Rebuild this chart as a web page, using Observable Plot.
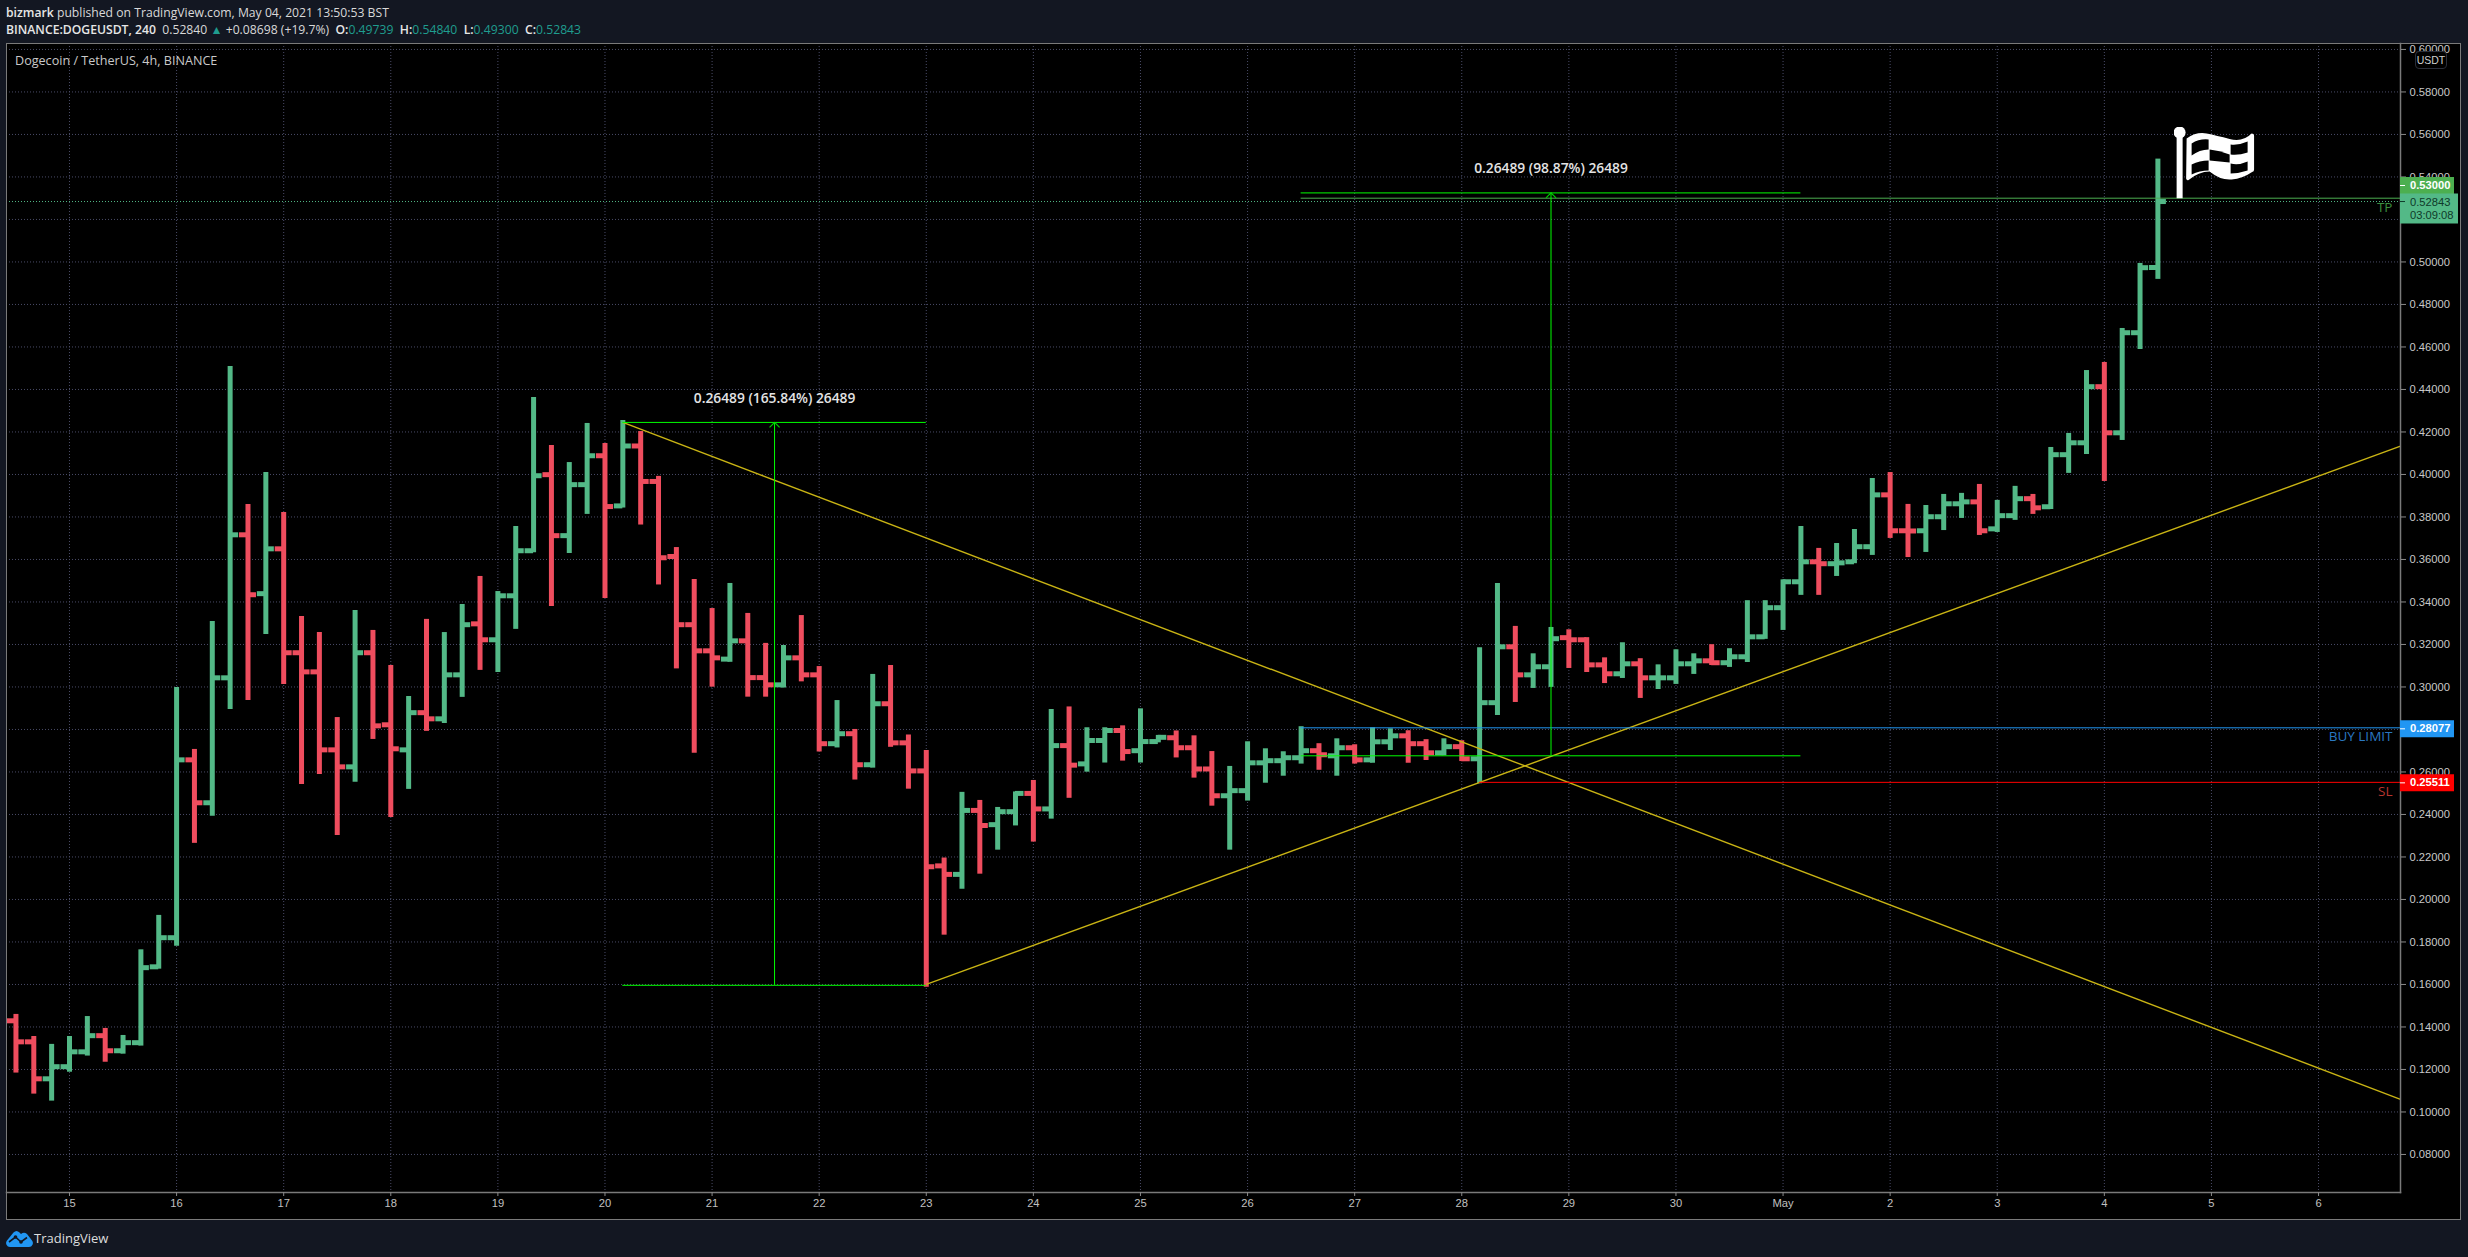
<!DOCTYPE html>
<html><head><meta charset="utf-8">
<script src="https://cdn.jsdelivr.net/npm/d3@7"></script>
<script src="https://cdn.jsdelivr.net/npm/@observablehq/plot@0.6"></script>
<style>
html,body{margin:0;padding:0;background:#131722;width:2468px;height:1257px;overflow:hidden;}
body{position:relative;font-family:"Open Sans",sans-serif;color:#d9d9d9;}
.hd{position:absolute;left:6px;white-space:nowrap;font-size:12.2px;line-height:16px;}
.hd b{font-weight:600;color:#e6e6e6}
.t{color:#1f9d8f}
#pane{position:absolute;left:6px;top:43px;}
#pane svg{display:block;outline:1.5px solid #7a7a7a;outline-offset:-1px;}
#title{position:absolute;left:15px;top:53px;font-size:12.6px;line-height:16px;color:#c9c9c9;white-space:nowrap;}
#usdt{position:absolute;left:2415px;top:51px;width:30px;height:16px;background:#000;border:1px solid #2a2e39;border-radius:4px;font:10.5px/16px "Liberation Sans",sans-serif;color:#cfcfcf;text-align:center;}
#brand{position:absolute;left:34px;top:1230px;font-size:13px;line-height:16px;color:#dedede;}
#logo{position:absolute;left:6px;top:1230px;}
</style></head><body>
<div class="hd" style="top:5px"><b>bizmark</b> published on TradingView.com, May 04, 2021 13:50:53 BST</div>
<div class="hd" style="top:22px"><b>BINANCE:DOGEUSDT, 240</b>&nbsp; 0.52840 <span class="t">▲</span> +0.08698 (+19.7%) &nbsp;<b>O:</b><span class="t">0.49739</span> &nbsp;<b>H:</b><span class="t">0.54840</span> &nbsp;<b>L:</b><span class="t">0.49300</span> &nbsp;<b>C:</b><span class="t">0.52843</span></div>
<div id="pane"></div>
<div id="title">Dogecoin / TetherUS, 4h, BINANCE</div>
<div id="usdt">USDT</div>
<svg id="logo" width="27" height="17" viewBox="0 0 27 17"><path fill="#2196f3" d="M4 17A4 4 0 0 1 1 10.5L7.5 2.5Q10.5 -.5 13.500 2.500L15 4Q18 1.500 21 4L26 10.500A4 4 0 0 1 23 17Z"/><path fill="none" stroke="#131722" stroke-width="1.6" d="M3 12L9.500 7L15 12L21 7.500"/><circle cx="9.500" cy="7" r="1.800" fill="#131722"/><circle cx="15" cy="12" r="1.800" fill="#131722"/></svg>
<div id="brand">TradingView</div>
<script>
// OHLC of 4h bars, first bar 2021-04-14 12:00 UTC
const firstBar = Date.UTC(2021, 3, 14, 12);
const opens = [
.1429,.1330,.1156,.1213,.1283,.1359,.1288,.1326,.1683,.1820,
.2657,.2455,.3043,.3716,.3439,.3650,.3161,.3071,.2704,.2624,
.3161,.2822,.2704,.2879,.2850,.3057,.3297,.3222,.3429,.3641,
.3999,.3712,.3952,.4088,.3852,.4134,.3967,.3614,.3293,.3170,
.3131,.3217,.3044,.3010,.3137,.3057,.2733,.2780,.2634,.2921,
.2737,.2605,.2158,.2118,.2419,.2352,.2413,.2499,.2426,.2724,
.2638,.2748,.2795,.2700,.2743,.2761,.2714,.2614,.2488,.2512,
.2643,.2653,.2667,.2700,.2676,.2714,.2657,.2742,.2770,.2733,
.2690,.2719,.2662,.2926,.3189,.3057,.3095,.3232,.3222,.3104,
.3062,.3109,.3043,.3043,.3109,.3123,.3114,.3142,.3236,.3373,
.3495,.3589,.3580,.3589,.3660,.3904,.3735,.3735,.3801,.3862,
.3871,.3744,.3806,.3886,.3848,.4093,.4149,.4413,.4196,.4667,
.49739];
const highs = [
.1459,.1355,.1318,.1355,.1449,.1393,.1360,.1763,.1925,.2998,
.2706,.3308,.4508,.3859,.4009,.3821,.3332,.3256,.2856,.3360,
.3266,.3101,.2955,.3318,.3256,.3388,.3520,.3449,.3755,.4362,
.4136,.4056,.4240,.4146,.4254,.4202,.3991,.3656,.3506,.3369,
.3487,.3346,.3205,.3195,.3336,.3096,.2936,.2800,.3059,.3101,
.2774,.2701,.2195,.2504,.2466,.2433,.2506,.2560,.2894,.2906,
.2808,.2808,.2817,.2897,.2772,.2793,.2770,.2696,.2626,.2742,
.2709,.2695,.2813,.2733,.2756,.2728,.2808,.2803,.2794,.2752,
.2756,.2747,.3184,.3487,.3285,.3156,.3280,.3269,.3232,.3137,
.3208,.3133,.3104,.3175,.3156,.3199,.3180,.3406,.3406,.3504,
.3755,.3652,.3675,.3741,.3981,.4009,.3859,.3854,.3906,.3911,
.3953,.3878,.3944,.3906,.4127,.4193,.4489,.4527,.4687,.4993,
.54840];
const lows = [
.1183,.1084,.1051,.1187,.1263,.1234,.1272,.1310,.1672,.1780,
.2264,.2392,.2894,.2936,.3247,.3012,.2541,.2588,.2301,.2551,
.2753,.2386,.2518,.2791,.2828,.2951,.3078,.3068,.3271,.3632,
.3379,.3628,.3812,.3416,.3842,.3762,.3480,.3085,.2688,.2999,
.3116,.2952,.2952,.2995,.3024,.2694,.2713,.2562,.2618,.2716,
.2519,.1587,.1832,.2048,.2119,.2232,.2346,.2270,.2378,.2476,
.2599,.2642,.2651,.2642,.2737,.2666,.2571,.2439,.2232,.2463,
.2547,.2580,.2637,.2608,.2580,.2637,.2641,.2701,.2641,.2654,
.2676,.2649,.2544,.2866,.2927,.2993,.2998,.3087,.3068,.3016,
.3040,.2946,.2988,.3012,.3059,.3101,.3092,.3115,.3224,.3266,
.3431,.3431,.3520,.3580,.3619,.3699,.3609,.3633,.3736,.3793,
.3713,.3727,.3784,.3812,.3835,.4005,.4094,.3967,.4160,.4588,
.4918];
const closes = [
.1330,.1156,.1213,.1283,.1359,.1288,.1326,.1679,.1820,.2657,
.2455,.3043,.3716,.3434,.3650,.3161,.3071,.2704,.2624,.3161,
.2817,.2709,.2879,.2850,.3057,.3293,.3222,.3429,.3641,.3994,
.3712,.3952,.4088,.3849,.4134,.3967,.3608,.3293,.3170,.3137,
.3217,.3044,.3010,.3137,.3057,.2733,.2780,.2634,.2921,.2737,
.2605,.2154,.2118,.2419,.2348,.2413,.2499,.2426,.2724,.2632,
.2748,.2795,.2696,.2743,.2763,.2714,.2614,.2488,.2512,.2643,
.2653,.2667,.2700,.2681,.2714,.2657,.2742,.2770,.2733,.2690,
.2719,.2662,.2926,.3189,.3057,.3095,.3227,.3222,.3104,.3062,
.3109,.3043,.3043,.3109,.3123,.3114,.3142,.3236,.3373,.3495,
.3589,.3580,.3584,.3660,.3904,.3735,.3734,.3801,.3862,.3871,
.3735,.3806,.3886,.3843,.4093,.4149,.4413,.4196,.4667,.4973,
.52843];

// axes
const dayTicks = [
"2021-04-15","2021-04-16","2021-04-17","2021-04-18","2021-04-19","2021-04-20","2021-04-21","2021-04-22",
"2021-04-23","2021-04-24","2021-04-25","2021-04-26","2021-04-27","2021-04-28","2021-04-29","2021-04-30",
"2021-05-01","2021-05-02","2021-05-03","2021-05-04","2021-05-05","2021-05-06"].map(d => new Date(d + "T00:00Z"));
const dayLabels = ["15","16","17","18","19","20","21","22","23","24","25","26","27","28","29","30","May","2","3","4","5","6"];
const priceTicks = [.08,.10,.12,.14,.16,.18,.20,.22,.24,.26,.28,.30,.32,.34,.36,.38,.40,.42,.44,.46,.48,.50,.52,.54,.56,.58,.60];

// drawings
const T = s => new Date(s + "Z");
const yellowLines = [
  {x1: T("2021-04-20T04:00"), y1: .4245, x2: T("2021-05-06T18:22"), y2: .1059},
  {x1: T("2021-04-23T00:00"), y1: .1600, x2: T("2021-05-06T18:22"), y2: .4133}
];
const measures = [
  {from: T("2021-04-20T04:00"), mid: T("2021-04-21T14:00"), to: T("2021-04-23T00:00"), low: .15960, high: .42449, label: "0.26489 (165.84%) 26489"},
  {from: T("2021-04-26T12:00"), mid: T("2021-04-28T20:00"), to: T("2021-05-01T04:00"), low: .26760, high: .53249, label: "0.26489 (98.87%) 26489"}
];
const orderLines = [
  {price: .53000, from: T("2021-04-26T12:00"), stroke: "#4caf50", label: "TP", text: "#3a8f3e"},
  {price: .28077, from: T("2021-04-26T12:00"), stroke: "#2196f3", label: "BUY LIMIT", text: "#2a78c2"},
  {price: .25511, from: T("2021-04-28T04:00"), stroke: "#ff0000", label: "SL", text: "#b8352f"}
];
const lastPrice = .52843, countdown = "03:09:08";
const priceTags = [
  {price: .53000, label: "0.53000", fill: "#4caf50", ink: "#fff", shift: -12.7, span: 54, thick: 17, weight: 700},
  {price: .28077, label: "0.28077", fill: "#2196f3", ink: "#fff", shift: 1, span: 54, thick: 17, weight: 700},
  {price: .25511, label: "0.25511", fill: "#ff0000", ink: "#fff", shift: .5, span: 54, thick: 17, weight: 700},
  {price: lastPrice, label: "0.52843", fill: "#53b987", ink: "#0f3a2a", shift: 7, span: 58, thick: 30, weight: 400, textShift: 1}
];

const H4 = 4 * 3600e3;
const bars = opens.map((o, i) => ({date: new Date(firstBar + i * H4), open: o, high: highs[i], low: lows[i], close: closes[i]}));
const xStart = T("2021-04-14T09:53"), xEnd = T("2021-05-06T18:22");
const pxMs = 24 * 3600e3 / 107.1;
const pxPrice = 1 / 2125;
const tickMs = 8.5 * pxMs;
const up = "#53b987", down = "#ef4d5e";
const barColor = d => d.close >= d.open ? up : down;
const shiftX = (px) => new Date(+xEnd + px * pxMs);
const chevrons = measures.flatMap(m => [-1, 1].map(s => ({x1: m.mid, y1: m.high, x2: new Date(+m.mid + s * 5 * pxMs), y2: m.high - 5 * pxPrice})));

const grid = {stroke: "#4a4c68", strokeWidth: 1, strokeDasharray: "1,2"};
const axisFont = '"Liberation Sans",sans-serif';
const limeGreen = "#00ff00";

const flagSvg = `<svg xmlns="http://www.w3.org/2000/svg" viewBox="-3 0 81 72" width="81" height="72"><circle cx="3" cy="6" r="6" fill="#fff"/><rect x="0" y="6" width="6" height="66" fill="#fff"/><path fill="#fff" d="M10 12Q20 5 30 7T53 12.500T75 7Q77.500 7 77.500 9.500L77.500 43Q77.500 45 75.500 45.500Q66 52 55 53T33 45Q22 45 12 53.500Q10 54.500 9.500 52Z"/><g fill="#000"><path d="M15 17Q23 12 32 13L32 23Q23 23 15 29Z"/><path d="M33 23Q43 24 53 28L53 36Q43 35 33 34Z"/><path d="M54 18Q62 19 71 15L71 26Q62 29 54 28Z"/><path d="M15 38Q23 34 32 34L32 44Q23 44 15 48Z"/><path d="M54 37Q62 39 71 35L71 44Q62 47 54 47Z"/></g></svg>`;
const flag = [{date: T("2021-05-05T00:36"), price: .5468, src: "data:image/svg+xml;utf8," + encodeURIComponent(flagSvg)}];

const tagMarks = priceTags.flatMap(t => [
  Plot.ruleY([t], {y: "price", x1: () => xEnd, x2: () => shiftX(t.span), stroke: "fill", strokeWidth: t.thick, dy: t.shift}),
  Plot.ruleY([t], {y: "price", x1: () => xEnd, x2: () => shiftX(5), stroke: "ink", strokeWidth: 1, dy: t.thick > 20 ? 0 : t.shift}),
  Plot.text([t], {x: () => xEnd, y: "price", text: "label", dx: 9.5, dy: t.textShift ?? t.shift, textAnchor: "start", fill: "ink", fontWeight: t.weight, fontFamily: axisFont, fontSize: 11.2})
]);

const chart = Plot.plot({
  width: 2455, height: 1177,
  marginTop: 0, marginLeft: 0, marginRight: 61, marginBottom: 28,
  x: {type: "utc", domain: [xStart, xEnd], axis: null},
  y: {domain: [.0621, .6028], axis: null},
  color: {type: "identity"},
  style: {background: "#000", overflow: "visible", fontFamily: '"Open Sans",sans-serif'},
  marks: [
    Plot.ruleY(priceTicks, grid),
    Plot.ruleX(dayTicks, grid),
    Plot.ruleY([lastPrice], {stroke: up, strokeWidth: 1, strokeDasharray: "1,2"}),

    Plot.ruleX(bars, {x: "date", y1: "low", y2: "high", stroke: barColor, strokeWidth: 5}),
    Plot.ruleY(bars, {y: "open", x1: d => new Date(+d.date - tickMs), x2: "date", stroke: barColor, strokeWidth: 5}),
    Plot.ruleY(bars, {y: "close", x1: "date", x2: d => new Date(+d.date + tickMs), stroke: barColor, strokeWidth: 5}),

    Plot.link(yellowLines, {x1: "x1", y1: "y1", x2: "x2", y2: "y2", stroke: "#c9b414", strokeWidth: 1.4}),
    Plot.ruleY(orderLines, {y: "price", x1: "from", x2: () => xEnd, stroke: "stroke", strokeWidth: 1}),
    Plot.ruleY(measures, {y: "high", x1: "from", x2: "to", stroke: limeGreen, strokeWidth: 1}),
    Plot.ruleY(measures, {y: "low", x1: "from", x2: "to", stroke: limeGreen, strokeWidth: 1}),
    Plot.ruleX(measures, {x: "mid", y1: "low", y2: "high", stroke: limeGreen, strokeWidth: 1}),
    Plot.link(chevrons, {x1: "x1", y1: "y1", x2: "x2", y2: "y2", stroke: "#00d000", strokeWidth: 1.2}),
    Plot.text(measures, {x: "mid", y: "high", text: "label", dy: -24, fill: "#e4e4e4", fontSize: 13.8, fontWeight: 600}),
    Plot.text(orderLines, {x: () => xEnd, y: "price", text: "label", fill: "text", dx: -8, dy: 9, textAnchor: "end", fontSize: 13.5}),

    Plot.image(flag, {x: "date", y: "price", src: "src", width: 81, height: 72}),

    Plot.frame({anchor: "right", stroke: "#7a7a7a", strokeWidth: 1.5}),
    Plot.frame({anchor: "bottom", stroke: "#7a7a7a", strokeWidth: 1.5}),
    Plot.axisY(priceTicks, {anchor: "right", tickFormat: d3.format(".5f"), tickSize: 5, tickPadding: 4, stroke: "#8a8a8a", fill: "#c8c8c8", fontFamily: axisFont, fontSize: 11.2, label: null}),
    Plot.axisX(dayTicks, {anchor: "bottom", tickFormat: d => dayLabels[dayTicks.findIndex(t => +t === +d)], tickSize: 4, tickPadding: 3, stroke: "#8a8a8a", fill: "#c0c0c0", fontFamily: axisFont, fontSize: 11.2, label: null}),

    ...tagMarks,
    Plot.text([lastPrice], {x: () => xEnd, y: d => d, text: () => countdown, dx: 9.5, dy: 14, textAnchor: "start", fill: "#0f3a2a", fontFamily: axisFont, fontSize: 11.2})
  ]
});
document.getElementById("pane").append(chart);
</script>
</body></html>
